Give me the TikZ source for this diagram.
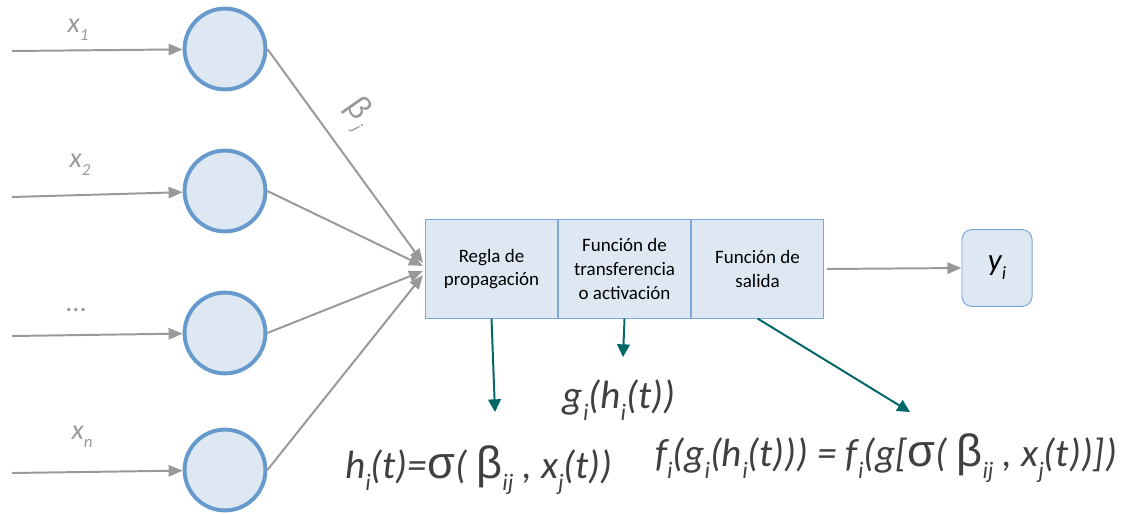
\documentclass[tikz,border=0pt]{standalone}
\usepackage{fontspec}
\usepackage{graphicx}
\usepackage{xcolor}
\setmainfont{Carlito}
\newfontfamily\greekfont{Liberation Sans}
\usetikzlibrary{arrows.meta,calc,positioning}
\definecolor{nodeblue}{HTML}{6699CC}
\definecolor{boxblue}{HTML}{7EA6D6}
\definecolor{nodefill}{HTML}{DEE8F3}
\definecolor{wiregray}{HTML}{999999}
\definecolor{tealdark}{HTML}{006666}
\definecolor{formulagray}{HTML}{404040}
\newcommand{\lo}[1]{\raisebox{-0.6ex}{\scalebox{0.6}{#1}}}
\newcommand{\gk}[1]{{\greekfont\upshape\scalebox{1.15}{#1}}}

\begin{document}
\begin{tikzpicture}[
  x=0.025cm, y=-0.025cm,
  every node/.style={font=\fontsize{13.5}{17}\selectfont},
  neuron/.style={
    circle,
    draw=nodeblue,
    line width=2.8pt,
    fill=nodefill,
    minimum size=2.02cm,
    inner sep=0pt
  },
  stage/.style={
    draw=boxblue,
    line width=0.7pt,
    fill=nodefill,
    align=center,
    minimum width=3.3cm,
    minimum height=2.45cm,
    inner sep=2pt
  },
  outbox/.style={
    draw=boxblue,
    line width=0.7pt,
    fill=nodefill,
    rounded corners=7pt,
    minimum width=1.75cm,
    minimum height=1.92cm
  },
  inlabel/.style={text=wiregray, font=\fontsize{20}{22}\selectfont\itshape},
  formula/.style={text=formulagray, font=\fontsize{28}{32}\selectfont\itshape},
  wire/.style={-{Triangle[length=10pt,width=8pt]}, line width=1.4pt, draw=wiregray},
  pointer/.style={-{Triangle[length=9pt,width=9pt]}, line width=1.4pt, draw=tealdark}
]
\useasboundingbox (0,0) rectangle (1127,514);

\node[neuron] (n1) at (225,49) {};
\node[neuron] (n2) at (225,191) {};
\node[neuron] (n3) at (225,333) {};
\node[neuron] (n4) at (225,470) {};

\coordinate (in1) at (12,51);
\coordinate (in2) at (12,197);
\coordinate (in3) at (12,336);
\coordinate (in4) at (12,473);

\node[inlabel] (x1) at (78,30) {x\lo{1}};
\node[inlabel] (x2) at (80,165) {x\lo{2}};
\node[inlabel] (xd) at (76,310) {\upshape ...};
\node[inlabel] (xn) at (82,437) {x\lo{n}};

\node[stage, anchor=west] (prop) at (425,269) {Regla de\\propagación};
\node[stage, right=0pt of prop] (transf) {Función de\\transferencia\\o activación};
\node[stage, right=0pt of transf] (outp) {Función de\\salida};
\node[outbox] (yi) at (997,268) {\fontsize{22}{24}\selectfont\itshape y\lo{i}};

\node[inlabel, rotate=-55] (beta) at (358,114) {\gk{β}\hspace{3pt}\lo{j}};

\node[formula] (gform) at (619,400) {g\lo{i}(h\lo{i}(t))};
\node[formula] (hform) at (479,470) {h\lo{i}(t)=\gk{σ}( \gk{β}\lo{ij} , x\lo{j}(t))};
\node[formula] (fform) at (886,458) {f\lo{i}(g\lo{i}(h\lo{i}(t))) = f\lo{i}(g[\gk{σ}( \gk{β}\lo{ij} , x\lo{j}(t))])};

\coordinate (hend) at (495,412);
\coordinate (gend) at (623,357);
\coordinate (fend) at (910,412);

% inputs
\draw[wire] (in1) -- (n1);
\draw[wire] (in2) -- (n2);
\draw[wire] (in3) -- (n3);
\draw[wire] (in4) -- (n4);
% weighted links into the propagation rule
\draw[wire] (n1.east) -- ($(prop.west)+(-2,-6)$);
\draw[wire] (n2.east) -- ($(prop.west)+(-2,-3)$);
\draw[wire] (n3.east) -- ($(prop.west)+(-2,2)$);
\draw[wire] (n4.east) -- ($(prop.west)+(-2,6)$);
\draw[wire] (outp.east) ++(3,0) -- (yi.west);

\draw[pointer] (prop.south) -- (hend);
\draw[pointer] (transf.south) -- (gend);
\draw[pointer] (outp.south) -- (fend);
\end{tikzpicture}
\end{document}
